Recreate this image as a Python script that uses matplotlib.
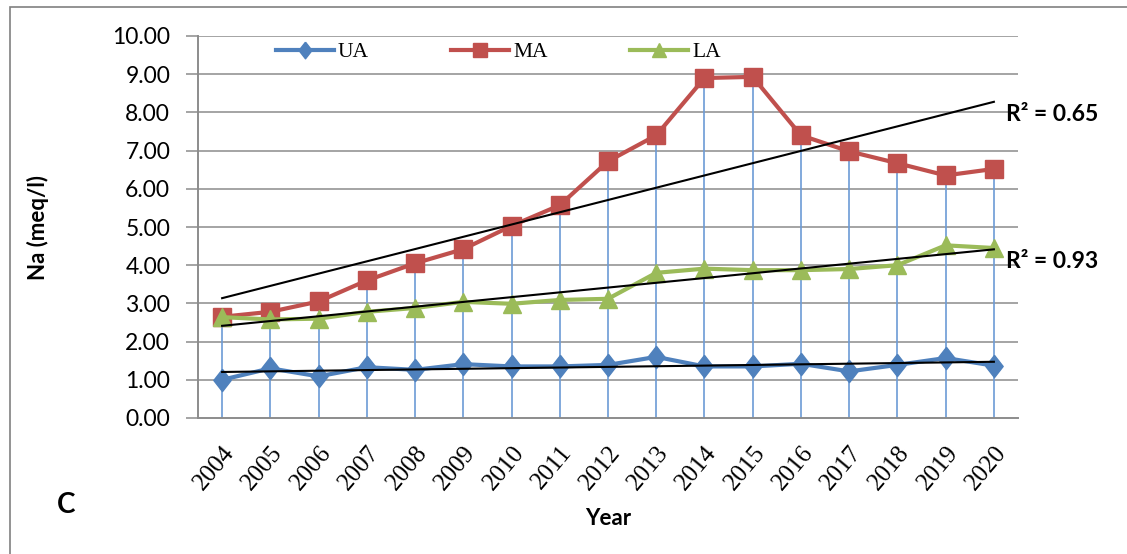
import numpy as np
import matplotlib.pyplot as plt
from matplotlib.patches import Rectangle

# Na concentration (meq/l) per year for the three aquifers
years = list(range(2004, 2021))
ua = [1.00, 1.30, 1.09, 1.33, 1.26, 1.41, 1.35, 1.35, 1.39, 1.60, 1.35, 1.35, 1.42, 1.22, 1.39, 1.57, 1.37]
ma = [2.65, 2.78, 3.05, 3.60, 4.05, 4.42, 5.03, 5.57, 6.72, 7.40, 8.90, 8.93, 7.40, 6.98, 6.67, 6.35, 6.52]
la = [2.64, 2.58, 2.60, 2.78, 2.88, 3.04, 2.99, 3.09, 3.12, 3.80, 3.91, 3.87, 3.87, 3.90, 4.00, 4.52, 4.45]
r2_labels = {"MA": "R² = 0.65", "LA": "R² = 0.93"}

blue = "#4F81BD"
red = "#C0504D"
green = "#9BBB59"
grid_gray = "#8C8C8C"

# slightly tall diamond marker
diamond = [(0, 1), (0.78, 0), (0, -1), (-0.78, 0), (0, 1)]

fig = plt.figure(figsize=(11.27, 5.54), dpi=100)
ax = fig.add_axes([198 / 1127, 1 - 418 / 554, 820 / 1127, 382 / 554])

x = np.arange(len(years))

# gridlines and drop lines from the top point down to the axis
for v in range(1, 11):
    ax.axhline(v, color=grid_gray, lw=1.1, zorder=1)
tops = np.maximum.reduce([np.array(ua), np.array(ma), np.array(la)])
ax.vlines(x, 0, tops, color="#6C9BD6", lw=1.2, zorder=2)

series = [("UA", ua, blue, diamond, 16), ("MA", ma, red, "s", 13), ("LA", la, green, "^", 13)]
for name, vals, col, mk, ms in series:
    ax.plot(x, vals, color=col, lw=3, marker=mk, markersize=ms,
            markerfacecolor=col, markeredgecolor=col, label=name, zorder=3)

# linear trendlines
for name, vals, col, mk, ms in series:
    k, b = np.polyfit(x, vals, 1)
    fit = k * x + b
    ax.plot(x, fit, color="black", lw=1.5, zorder=4)
    if name in r2_labels:
        ax.text(16.25, fit[-1] - 0.32, r2_labels[name], fontsize=16.5, fontweight="bold",
                family="Lato", va="center", ha="left", clip_on=False)

ax.set_xlim(-0.5, 16.5)
ax.set_ylim(0, 10)
ax.set_yticks(np.arange(0, 11, 1))
ax.set_yticklabels([f"{v:.2f}" for v in range(0, 11)], fontsize=16.5, family="Lato")
ax.set_xticks(x)
ax.set_xticklabels([str(yr) for yr in years], rotation=50, ha="right", va="top",
                   rotation_mode="anchor", fontsize=18, family="Liberation Serif")
ax.tick_params(axis="y", length=9, width=1.1, color=grid_gray, pad=11)
ax.tick_params(axis="x", length=0, pad=17)

for side in ["top", "right"]:
    ax.spines[side].set_visible(False)
for side in ["left", "bottom"]:
    ax.spines[side].set_color(grid_gray)
    ax.spines[side].set_linewidth(1.4)

ax.set_ylabel("Na (meq/l)", fontsize=16, fontweight="bold", family="Lato")
ax.yaxis.set_label_coords(-0.182, 0.5)
ax.set_xlabel("Year", fontsize=16, fontweight="bold", family="Lato")
ax.xaxis.set_label_coords(0.5, -0.236)

ax.legend(loc="center", bbox_to_anchor=(0.366, 0.958), ncol=3, frameon=False,
          prop={"family": "Liberation Serif", "size": 15.5}, handlelength=2.7,
          handletextpad=0.2, columnspacing=3.8, markerscale=0.75)

fig.text(66 / 1127, 1 - 505 / 554, "C", fontsize=20, fontweight="bold", family="Lato",
         ha="center", va="center")

# outer border of the chart
fig.patches.append(Rectangle((10 / 1127, -0.1), 1.2, 1.1 - 7 / 554, fill=False,
                             edgecolor="#808080", lw=1.2, transform=fig.transFigure))

fig.savefig("out.png", dpi=100)
